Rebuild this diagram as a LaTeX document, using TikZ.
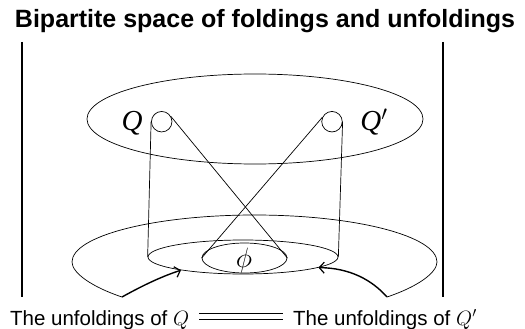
\documentclass[tikz,border=0pt]{standalone}
\usepackage{fontspec}
\setmainfont{Liberation Sans}
\newfontfamily\timesfont{Liberation Serif}
\usetikzlibrary{positioning,arrows.meta,shapes.geometric,calc}

\begin{document}
\begin{tikzpicture}[x=1pt,y=-1pt,
    ring/.style={draw,ellipse,inner sep=0pt,line width=0.7pt},
    hole/.style={draw,circle,inner sep=0pt,minimum size=20.5pt,line width=0.7pt},
    wire/.style={line width=0.7pt},
    bar/.style={line width=1.4pt},
    push/.style={-{Straight Barb[length=5pt,width=11pt,line width=1.2pt]},line width=1.4pt},
    lbl/.style={font=\fontsize{20.5}{24}\selectfont,inner sep=3pt},
    sym/.style={font=\fontsize{29}{32}\selectfont\timesfont\itshape,inner sep=0pt}]

  \useasboundingbox (0,0) rectangle (525,329);

  \node[font=\fontsize{25}{28}\selectfont\bfseries,anchor=base] (title) at (265,28) {Bipartite space of foldings and unfoldings};

  % the two walls
  \draw[bar] (22,42) -- (22,297);
  \draw[bar] (443,42) -- (443,297);

  % foldings
  \node[ring,minimum width=336pt,minimum height=90pt] (top) at (255,119) {};
  \node[hole] (qc)  at (161.7,121.7) {};
  \node[hole] (qpc) at (332,121.7) {};
  \node[sym,anchor=base] (q)  at (132,130) {Q};
  \node[sym,anchor=base] (qp) at (374,130) {Q$'$};

  % unfoldings
  \coordinate (lend) at (122,297);
  \coordinate (rend) at (387,297);
  \draw[wire] (lend) .. controls (92,287) and (72,273) .. (72,262)
    .. controls (72,236) and (153.7,215) .. (254.5,215)
    .. controls (355.3,215) and (437,236) .. (437,262)
    .. controls (437,273) and (417,287) .. (rend);
  \node[ring,minimum width=190pt,minimum height=34pt] (mid) at (243,257) {};
  \node[ring,minimum width=85pt,minimum height=30pt] (phi) at (244.5,258) {};
  \node[inner sep=0pt] (phil) at (244,260) {\fontsize{20}{24}\selectfont\scalebox{1.35}{$\phi$}};

  \draw[wire] (qc.west) -- (mid.west);
  \draw[wire] (qpc.east) -- (mid.east);
  \draw[wire] (qc.30) -- (phi.east);
  \draw[wire] (qpc.155) -- (phi.west);

  \draw[push] (lend) .. controls (140,287) and (160,277) .. (mid.192);
  \draw[push] (rend) .. controls (372,280) and (350,268) .. (mid.352);

  % captions
  \node[lbl,anchor=base west] (uq)  at (7,325) {The unfoldings of $Q$};
  \node[lbl,anchor=base west] (uqp) at (290,325) {The unfoldings of $Q'$};
  \draw[wire,shorten <=7pt,shorten >=7pt] ([yshift=12pt]uq.base east) -- ([yshift=12pt]uqp.base west);
  \draw[wire,shorten <=7pt,shorten >=7pt] ([yshift=6pt]uq.base east) -- ([yshift=6pt]uqp.base west);
\end{tikzpicture}
\end{document}
